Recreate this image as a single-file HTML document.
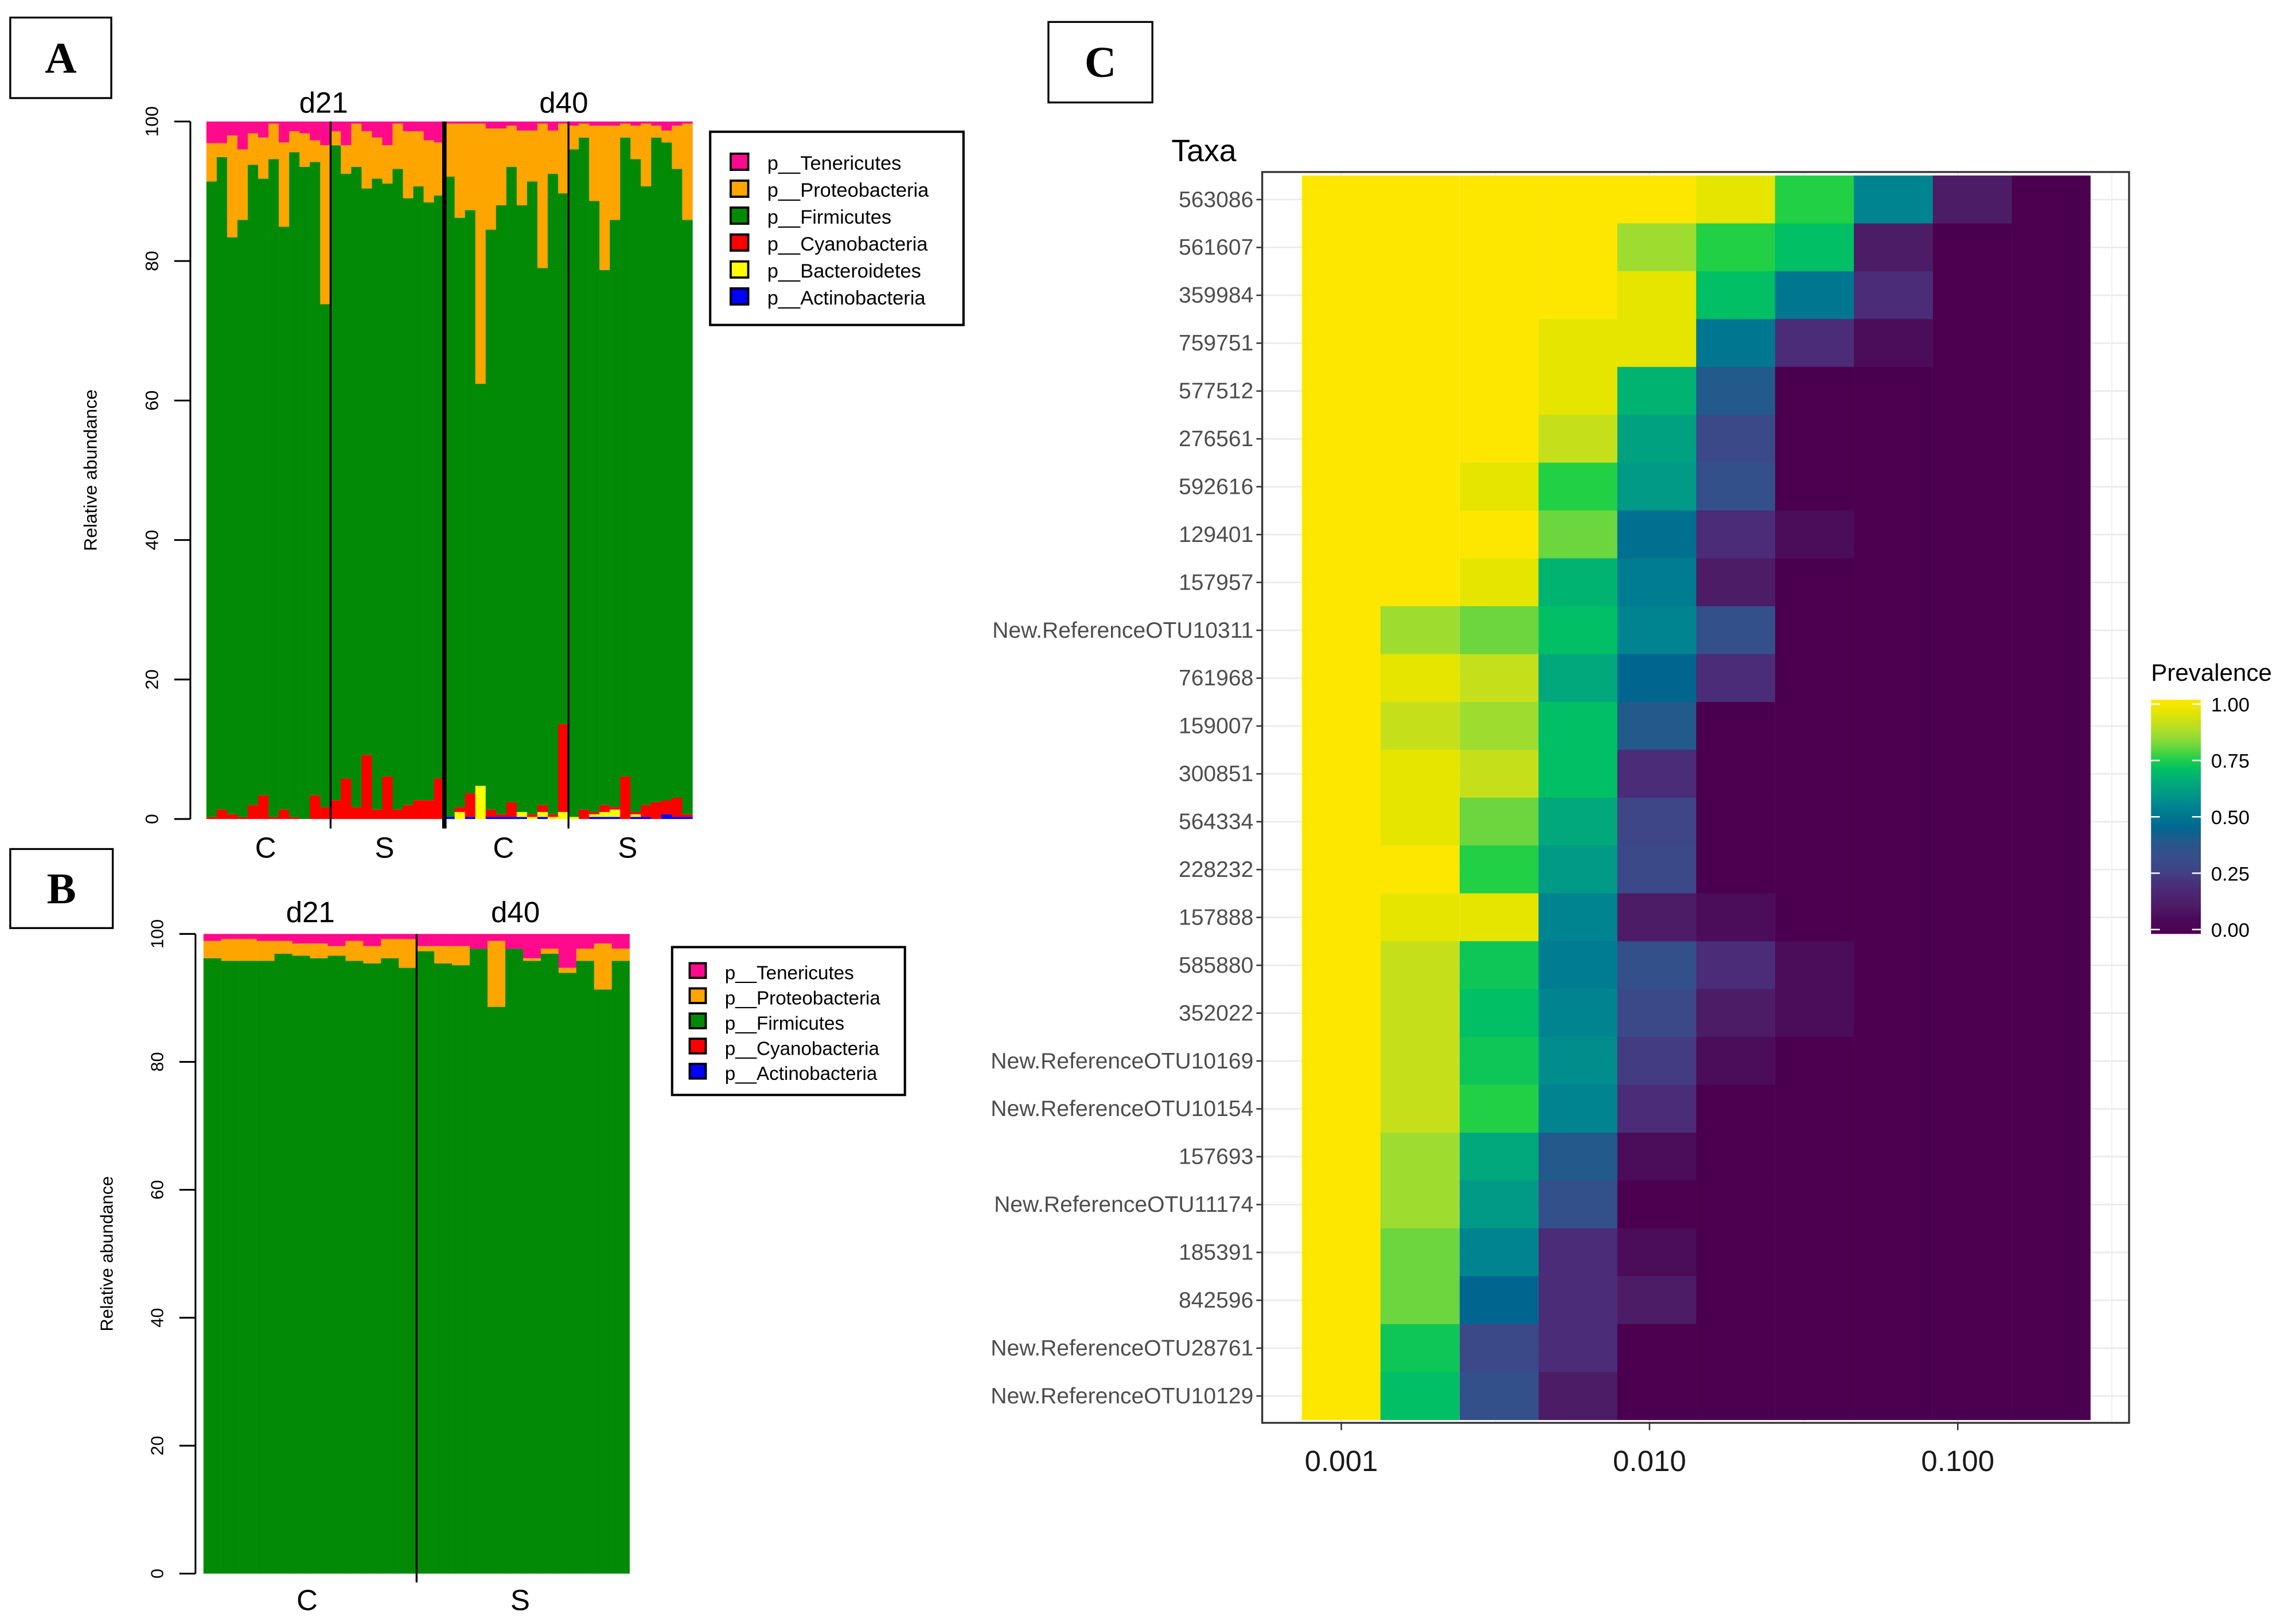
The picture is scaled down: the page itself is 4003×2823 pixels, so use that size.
<!DOCTYPE html>
<html><head><meta charset="utf-8"><style>
html,body{margin:0;padding:0;background:#fff;}
svg{display:block;font-family:"Liberation Sans",sans-serif;}
</style></head><body>
<svg id="fig" width="4003" height="2823" viewBox="0 0 1568 1106" preserveAspectRatio="none" xmlns="http://www.w3.org/2000/svg">
<rect x="0" y="0" width="1568" height="1106" fill="#fff"/>
<g id="pa"></g>
<g id="pb"></g>
<g id="pc"></g>
</svg>
<script>
// ---------- Panel A data ----------
const aGroups = ["d21 C","d21 S","d40 C","d40 S"];
const aGroupSizes = [12,11,12,12];
const aFirmTop = [91.4,94.9,83.4,85.9,93.8,91.8,94.6,84.9,95.6,93.5,94.2,73.8,
 96.6,92.5,93.5,90.4,91.8,91.1,93.2,89.0,90.7,88.4,89.4,
 92.1,86.2,87.3,62.4,84.5,88.0,93.5,88.0,91.4,79.0,92.5,89.7,
 96.0,97.7,88.6,78.7,85.9,97.7,94.6,90.7,97.7,97.0,93.2,85.9];
const aProteoTop = [96.9,96.9,98.0,96.0,98.3,97.7,99.7,97.0,98.6,98.3,97.3,96.6,
 98.6,96.6,99.7,98.6,97.7,96.6,99.7,98.6,98.6,97.3,97.0,
 99.7,99.7,99.7,99.7,99.0,99.0,99.4,98.7,98.7,99.7,98.7,99.7,
 99.4,99.7,99.4,99.4,99.4,99.7,99.4,99.7,99.4,98.7,99.4,99.7];
const aActino = [0,0,0,0,0,0,0,0,0,0,0,0, 0,0,0,0,0,0,0,0,0,0,0,
 0.35,0,0.3,0,0.3,0.3,0.3,0.3,0,0.3,0,0,
 0,0,0.3,0.3,0.3,0,0.3,0.3,0,0.68,0.3,0.3];
const aBacter = [0,0,0,0,0,0,0,0,0,0,0,0, 0,0,0,0,0,0,0,0,0,0,0,
 0,1.0,0,4.75,0,0,0,0.7,0.3,0.7,0.3,1.0,
 0.3,0,0.38,0.7,1.05,0,0.38,0,0,0,0,0];
const aCyano = [0.27,1.35,0.68,0.27,2.0,3.4,0.27,1.35,0.27,0,3.4,1.7,
 2.7,5.8,1.7,9.2,1.35,6.1,1.35,2.0,2.7,2.7,5.8,
 0,0.7,3.4,0,1.05,0.38,2.1,0,0.38,1.0,0.38,12.6,
 0,1.35,0.32,1.0,0.35,6.1,0.32,1.7,2.4,2.0,2.75,0.38];
const aTicks = [0,20,40,60,80,100];

// ---------- Panel B data ----------
const bGroupSizes = [12,12];
const bFirmTop = [96.2,95.8,95.8,95.8,96.9,96.6,96.2,96.6,95.8,95.4,96.2,94.7,
 97.3,95.4,95.1,97.7,88.6,97.7,95.8,96.9,93.9,95.8,91.3,95.8];
const bProteoTop = [98.9,99.2,99.2,98.9,98.9,98.5,98.5,98.1,98.9,98.1,99.2,99.2,
 98.1,98.1,98.1,97.7,98.9,97.7,96.2,97.7,94.7,97.7,98.5,97.7];
const bTicks = [0,20,40,60,80,100];

// ---------- Panel C data ----------
const taxa = ["563086","561607","359984","759751","577512","276561","592616","129401","157957","New.ReferenceOTU10311","761968","159007","300851","564334","228232","157888","585880","352022","New.ReferenceOTU10169","New.ReferenceOTU10154","157693","New.ReferenceOTU11174","185391","842596","New.ReferenceOTU28761","New.ReferenceOTU10129"];
const detections = [0.001,0.0018,0.00325,0.00586,0.01056,0.01903,0.0343,0.0618,0.1114,0.2008];
const xTicks = [0.001,0.01,0.1];
const xTickLabels = ["0.001","0.010","0.100"];
const prev = [
[1,1,1,1,1,0.95,0.75,0.55,0.12,0],
[1,1,1,1,0.85,0.75,0.7,0.12,0,0],
[1,1,1,1,0.95,0.7,0.5,0.2,0,0],
[1,1,1,0.95,0.95,0.5,0.2,0.07,0,0],
[1,1,1,0.95,0.67,0.4,0,0,0,0],
[1,1,1,0.9,0.62,0.3,0,0,0,0],
[1,1,0.95,0.75,0.6,0.35,0,0,0,0],
[1,1,1,0.8,0.48,0.2,0.07,0,0,0],
[1,1,0.95,0.67,0.52,0.12,0,0,0,0],
[1,0.85,0.8,0.7,0.55,0.35,0,0,0,0],
[1,0.95,0.9,0.64,0.45,0.2,0,0,0,0],
[1,0.9,0.85,0.7,0.4,0,0,0,0,0],
[1,0.95,0.9,0.7,0.2,0,0,0,0,0],
[1,0.95,0.8,0.64,0.28,0,0,0,0,0],
[1,1,0.75,0.6,0.3,0,0,0,0,0],
[1,0.95,0.95,0.55,0.12,0.07,0,0,0,0],
[1,0.9,0.72,0.52,0.35,0.2,0.07,0,0,0],
[1,0.9,0.7,0.55,0.3,0.12,0.07,0,0,0],
[1,0.9,0.72,0.57,0.25,0.07,0,0,0,0],
[1,0.9,0.75,0.55,0.2,0,0,0,0,0],
[1,0.85,0.64,0.4,0.07,0,0,0,0,0],
[1,0.85,0.6,0.35,0,0,0,0,0,0],
[1,0.8,0.55,0.2,0.07,0,0,0,0,0],
[1,0.8,0.45,0.2,0.12,0,0,0,0,0],
[1,0.72,0.3,0.2,0,0,0,0,0,0],
[1,0.7,0.35,0.12,0,0,0,0,0,0]];
const legendTicks = [0,0.25,0.5,0.75,1];

const NS="http://www.w3.org/2000/svg";
function mk(parent,tag,attrs,text){const e=document.createElementNS(NS,tag);for(const k in attrs)e.setAttribute(k,attrs[k]);if(text!==undefined)e.textContent=text;parent.appendChild(e);return e;}

const COL={ten:"#ff0a8c",pro:"#ffa500",fir:"#028a06",cya:"#ff0000",bac:"#ffff00",act:"#0000ff"};

function labelBox(g,x,y,w,h,t){
  const r=mk(g,"rect",{x:x,y:y,width:w,height:h,fill:"#fff",stroke:"#000","stroke-width":1.3});
  
  
  const tx=mk(g,"text",{x:x+w/2,y:y+h/2+10,"text-anchor":"middle","font-family":"Liberation Serif, serif","font-weight":"bold","font-size":30},t);
  
  
}

function stackPanel(g,o){
  const n=o.firm.length, bw=(o.x1-o.x0)/n;
  const yv=v=>o.y0-(v/100)*(o.y0-o.y100);
  for(let i=0;i<n;i++){
    const x=o.x0+i*bw;
    const act=o.act?o.act[i]:0, bac=o.bac?o.bac[i]:0, cya=o.cya?o.cya[i]:0;
    const segs=[["act",0,act],["bac",act,act+bac],["cya",act+bac,act+bac+cya],["fir",act+bac+cya,o.firm[i]],["pro",o.firm[i],o.pro[i]],["ten",o.pro[i],100]];
    segs.forEach(s=>{
      if(s[2]-s[1]<=0)return;
      const r=mk(g,"rect",{x:x-0.05,y:yv(s[2]),width:bw+0.1,height:yv(s[1])-yv(s[2]),fill:COL[s[0]]});
      
      
    });
  }
  const ax=mk(g,"line",{x1:o.axX,y1:yv(0),x2:o.axX,y2:yv(100),stroke:"#000","stroke-width":1.2});
  
  
  o.ticks.forEach(t=>{
    const tl=mk(g,"line",{x1:o.axX-11,y1:yv(t),x2:o.axX,y2:yv(t),stroke:"#000","stroke-width":1.2});
    
    
    const tx=mk(g,"text",{x:o.axX-22,y:yv(t),"font-size":o.tickFs,"text-anchor":"middle",transform:`rotate(-90 ${o.axX-22} ${yv(t)})`},String(t));
    
    
  });
  const yt=mk(g,"text",{x:o.titleX,y:(yv(0)+yv(100))/2,"font-size":o.tickFs,"text-anchor":"middle",transform:`rotate(-90 ${o.titleX} ${(yv(0)+yv(100))/2})`},"Relative abundance");
  
  
  let c=0;
  o.sizes.forEach((s,k)=>{
    c+=s; if(k===o.sizes.length-1)return;
    const xx=o.x0+c*bw;
    const thick=o.thickIdx===k;
    const l=mk(g,"line",{x1:xx,y1:yv(100),x2:xx,y2:o.divBottom,stroke:"#000","stroke-width":thick?3:1.3});
    
    
  });
  let start=0;
  o.sizes.forEach((s,k)=>{
    const cx=o.x0+(start+s/2)*bw; start+=s;
    const tx=mk(g,"text",{x:cx-2,y:o.xlabY,"font-size":20,"text-anchor":"middle"},o.xlabels[k]);
    
    
  });
  o.days.forEach(d=>{
    const tx=mk(g,"text",{x:d[0],y:o.dayY,"font-size":20,"text-anchor":"middle"},d[1]);
    
    
  });
  const L=o.legend;
  const lb=mk(g,"rect",{x:L.x,y:L.y,width:L.w,height:L.h,fill:"#fff",stroke:"#000","stroke-width":1.6});
  
  
  L.items.forEach((it,k)=>{
    const yy=L.firstY+k*L.step;
    const sq=mk(g,"rect",{x:L.sqX,y:yy-6,width:L.sq,height:L.sq-1,fill:COL[it[0]],stroke:"#000","stroke-width":1.5});
    
    
    const tx=mk(g,"text",{x:L.txX,y:yy+5,"font-size":L.fs},it[1]);
    
    
  });
}

const pa=document.getElementById('pa');
labelBox(pa,7,12,69,55,"A");
stackPanel(pa,{x0:141,x1:473,y0:559.5,y100:83,firm:aFirmTop,pro:aProteoTop,act:aActino,bac:aBacter,cya:aCyano,
 sizes:aGroupSizes,thickIdx:1,divBottom:566,axX:130,tickFs:12.5,titleX:66,ticks:aTicks,
 xlabels:["C","S","C","S"],xlabY:586,days:[[221,"d21"],[385,"d40"]],dayY:77,
 legend:{x:485,y:90,w:173,h:132,firstY:111,step:18.4,sqX:499,sq:12,txX:524,fs:13.5,
  items:[["ten","p__Tenericutes"],["pro","p__Proteobacteria"],["fir","p__Firmicutes"],["cya","p__Cyanobacteria"],["bac","p__Bacteroidetes"],["act","p__Actinobacteria"]]}});

const pb=document.getElementById('pb');
labelBox(pb,7,580,70,54,"B");
stackPanel(pb,{x0:139,x1:430,y0:1075,y100:638,firm:bFirmTop,pro:bProteoTop,
 sizes:bGroupSizes,thickIdx:-1,divBottom:1081,axX:133.5,tickFs:12,titleX:77,ticks:bTicks,
 xlabels:["C","S"],xlabY:1100,days:[[212,"d21"],[352,"d40"]],dayY:630,
 legend:{x:459,y:647,w:159,h:101,firstY:664,step:17.2,sqX:471,sq:11,txX:495,fs:13,
  items:[["ten","p__Tenericutes"],["pro","p__Proteobacteria"],["fir","p__Firmicutes"],["cya","p__Cyanobacteria"],["act","p__Actinobacteria"]]}});

const pc=document.getElementById('pc');
labelBox(pc,716,15,71,55,"C");
const stops=[[0,'#4b004f'],[0.07,'#4b0c5a'],[0.12,'#4c1c66'],[0.2,'#4a2c78'],[0.28,'#3e4688'],[0.35,'#33508b'],[0.4,'#225a8b'],[0.45,'#006690'],[0.5,'#007690'],[0.55,'#008590'],[0.6,'#009a86'],[0.65,'#00ab7a'],[0.7,'#00bf64'],[0.75,'#22d046'],[0.8,'#6bd63e'],[0.85,'#9fdc30'],[0.9,'#c5e01a'],[0.95,'#e5e500'],[1,'#fde700']];
function hx(h){return [1,3,5].map(i=>parseInt(h.substr(i,2),16));}
function cmap(v){
  for(let i=1;i<stops.length;i++){
    if(v<=stops[i][0]+1e-9){const a=stops[i-1],b=stops[i];const t=(v-a[0])/(b[0]-a[0]);const ca=hx(a[1]),cb=hx(b[1]);
      return 'rgb('+ca.map((c,k)=>Math.round(c+(cb[k]-c)*t)).join(',')+')';}
  }
  return stops[stops.length-1][1];
}
const PX0=862, PX1=1454, PY0=117.5, PY1=972;
const xOf=v=>916+(Math.log10(v)+3)*210.5;
const rowTop=120, rowH=(970-120)/taxa.length;
const yOfRow=i=>rowTop+i*rowH;
const gridX=[0.001,Math.pow(10,-2.5),0.01,Math.pow(10,-1.5),0.1,Math.pow(10,-0.5)];
gridX.forEach((v,k)=>{
  const l=mk(pc,"line",{x1:xOf(v),y1:PY0,x2:xOf(v),y2:PY1,stroke:"#ebebeb","stroke-width":k%2?0.6:1.1});
  
  
});
taxa.forEach((t,i)=>{
  const yc=yOfRow(i)+rowH/2;
  const l=mk(pc,"line",{x1:PX0,y1:yc,x2:PX1,y2:yc,stroke:"#ebebeb","stroke-width":1.1});
  
  
});
const logStep=Math.log10(detections[1]/detections[0]);
prev.forEach((row,i)=>{
  row.forEach((v,j)=>{
    const lx=Math.log10(detections[j]);
    const x0=xOf(Math.pow(10,lx-logStep/2)), x1=xOf(Math.pow(10,lx+logStep/2));
    const r=mk(pc,"rect",{x:x0-0.1,y:yOfRow(i)-0.1,width:x1-x0+0.2,height:rowH+0.2,fill:cmap(v)});
    
    
  });
});
const border=mk(pc,"rect",{x:PX0,y:PY0,width:PX1-PX0,height:PY1-PY0,fill:"none",stroke:"#333","stroke-width":1.3});


taxa.forEach((t,i)=>{
  const yc=yOfRow(i)+rowH/2;
  const tk=mk(pc,"line",{x1:PX0-4,y1:yc,x2:PX0,y2:yc,stroke:"#333","stroke-width":1});
  
  
  const tx=mk(pc,"text",{x:856,y:yc+5,"font-size":15.3,"text-anchor":"end",fill:"#4d4d4d"},t);
  
  
});
const ttl=mk(pc,"text",{x:800,y:110,"font-size":21,fill:"#000"},"Taxa");


xTicks.forEach((v,k)=>{
  const tk=mk(pc,"line",{x1:xOf(v),y1:PY1,x2:xOf(v),y2:PY1+5,stroke:"#333","stroke-width":1});
  
  
  const tx=mk(pc,"text",{x:xOf(v),y:1005,"font-size":20,"text-anchor":"middle",fill:"#1a1a1a"},xTickLabels[k]);
  
  
});
const defs=mk(pc,"defs",{});
const lg=mk(defs,"linearGradient",{id:"vg",x1:0,y1:1,x2:0,y2:0});
stops.forEach(s=>mk(lg,"stop",{offset:s[0],"stop-color":s[1]}));
const cbY0=478, cbY1=638;
const lt=mk(pc,"text",{x:1469,y:465,"font-size":16.5,fill:"#000"},"Prevalence");


const cb=mk(pc,"rect",{x:1469,y:cbY0,width:34,height:cbY1-cbY0,fill:"url(#vg)"});


legendTicks.forEach(v=>{
  const yy=cbY1-3-(cbY1-cbY0-6)*v;
  const a=mk(pc,"line",{x1:1469,y1:yy,x2:1475,y2:yy,stroke:"#fff","stroke-width":1});
  
  
  const b=mk(pc,"line",{x1:1497,y1:yy,x2:1503,y2:yy,stroke:"#fff","stroke-width":1});
  
  
  const tx=mk(pc,"text",{x:1510,y:yy+5,"font-size":13.5,fill:"#000"},v.toFixed(2));
  
  
});
</script>
</body></html>
